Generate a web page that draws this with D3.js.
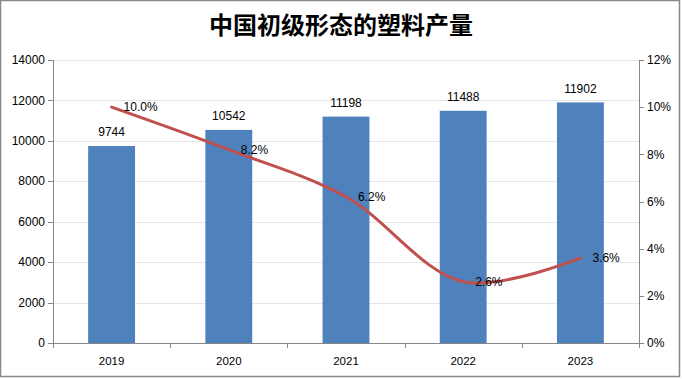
<!DOCTYPE html>
<html><head><meta charset="utf-8">
<script src="https://cdn.jsdelivr.net/npm/d3@7/dist/d3.min.js"></script>
<style>
html,body{margin:0;padding:0;background:#fff;}
svg{display:block;}
</style></head>
<body><div id="chart"></div>
<script>
const title = "中国初级形态的塑料产量";
const categories = ["2019","2020","2021","2022","2023"];
const production = [9744, 10542, 11198, 11488, 11902];
const growth = [10.0, 8.2, 6.2, 2.6, 3.6];
const leftTicks = [0,2000,4000,6000,8000,10000,12000,14000];
const rightTicks = [0,2,4,6,8,10,12];

const W = 682, H = 379;
const m = {left:53, right:43, top:60, bottom:36};
const svg = d3.select("#chart").append("svg").attr("width",W).attr("height",H);
svg.append("rect").attr("x",0.5).attr("y",0.5).attr("width",W-3).attr("height",H-3)
  .attr("fill","#fff").attr("stroke","#888").attr("stroke-width",1.5);

const x0 = m.left, x1 = W - m.right, y0 = H - m.bottom, y1 = m.top;
const x = d3.scaleBand().domain(categories).range([x0,x1]).paddingInner(0.6).paddingOuter(0.3);
const xb = d3.scaleBand().domain(categories).range([x0,x1]);
const y = d3.scaleLinear().domain([0,14000]).range([y0,y1]);
const y2 = d3.scaleLinear().domain([0,12]).range([y0,y1]);
const font = "'Liberation Sans', Arial, sans-serif";

// gridlines
svg.append("g").selectAll("line").data(leftTicks.slice(1)).join("line")
  .attr("x1",x0).attr("x2",x1).attr("y1",d=>Math.round(y(d))+0.5).attr("y2",d=>Math.round(y(d))+0.5)
  .attr("stroke","#e6e6e6").attr("stroke-width",1);

// bars
svg.append("g").selectAll("rect").data(production).join("rect")
  .attr("x",(d,i)=>x(categories[i])).attr("width",x.bandwidth())
  .attr("y",d=>y(d)).attr("height",d=>y0-y(d)).attr("fill","#4f81bd");

// axes
const ga = svg.append("g").attr("font-family",font).attr("font-size",12).attr("fill","#000");
// left
ga.append("line").attr("x1",x0+0.5).attr("x2",x0+0.5).attr("y1",y1).attr("y2",y0).attr("stroke","#868686");
ga.selectAll(".lt").data(leftTicks).join("line").attr("class","lt")
  .attr("x1",x0-5).attr("x2",x0).attr("y1",d=>Math.round(y(d))+0.5).attr("y2",d=>Math.round(y(d))+0.5).attr("stroke","#868686");
ga.selectAll(".ll").data(leftTicks).join("text").attr("class","ll")
  .attr("x",x0-8).attr("y",d=>y(d)).attr("dy","0.35em").attr("text-anchor","end").text(d=>d);
// right
ga.append("line").attr("x1",x1+0.5).attr("x2",x1+0.5).attr("y1",y1).attr("y2",y0).attr("stroke","#868686");
ga.selectAll(".rt").data(rightTicks).join("line").attr("class","rt")
  .attr("x1",x1).attr("x2",x1+5).attr("y1",d=>Math.round(y2(d))+0.5).attr("y2",d=>Math.round(y2(d))+0.5).attr("stroke","#868686");
ga.selectAll(".rl").data(rightTicks).join("text").attr("class","rl")
  .attr("x",x1+8).attr("y",d=>y2(d)).attr("dy","0.35em").attr("text-anchor","start").text(d=>d+"%");
// bottom
ga.append("line").attr("x1",x0).attr("x2",x1).attr("y1",y0+0.5).attr("y2",y0+0.5).attr("stroke","#868686");
const bticks = categories.map(c=>xb(c)).concat([x1]);
ga.selectAll(".bt").data(bticks).join("line").attr("class","bt")
  .attr("x1",d=>Math.round(d)+0.5).attr("x2",d=>Math.round(d)+0.5).attr("y1",y0).attr("y2",y0+5).attr("stroke","#868686");
ga.selectAll(".bl").data(categories).join("text").attr("class","bl")
  .attr("x",d=>xb(d)+xb.bandwidth()/2).attr("y",y0+18).attr("dy","0.35em").attr("text-anchor","middle").attr("font-size",11.5).text(d=>d);

// bar labels
svg.append("g").attr("font-family",font).attr("font-size",12).selectAll("text").data(production).join("text")
  .attr("x",(d,i)=>x(categories[i])+x.bandwidth()/2).attr("y",d=>y(d)-14).attr("dy","0.35em")
  .attr("text-anchor","middle").text(d=>d);

// line
const cx = i => xb(categories[i]) + xb.bandwidth()/2;
const line = d3.line().x((d,i)=>cx(i)).y(d=>y2(d)).curve(d3.curveCatmullRom.alpha(0.5));
svg.append("path").datum(growth).attr("d",line).attr("fill","none")
  .attr("stroke","#c0504d").attr("stroke-width",3).attr("stroke-linecap","round");

// line labels
svg.append("g").attr("font-family",font).attr("font-size",12).selectAll("text").data(growth).join("text")
  .attr("x",(d,i)=>cx(i)+12).attr("y",d=>y2(d)).attr("dy","0.35em")
  .attr("text-anchor","start").text(d=>d.toFixed(1)+"%");

// title
svg.append("text").attr("x",W/2).attr("y",26).attr("dy","0.35em").attr("text-anchor","middle")
  .attr("font-family","'Noto Sans CJK SC', sans-serif").attr("font-weight","bold").attr("font-size",24)
  .attr("fill","#000").text(title);
</script></body></html>
